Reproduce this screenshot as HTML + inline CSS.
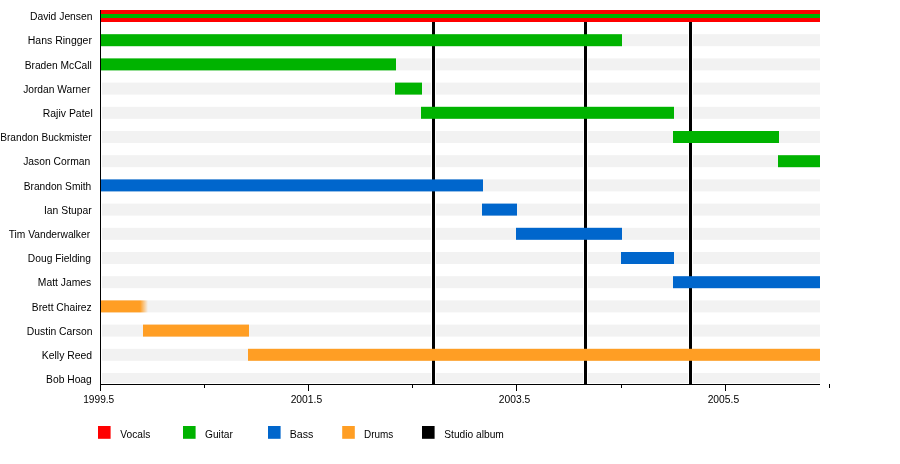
<!DOCTYPE html><html><head><meta charset="utf-8"><style>html,body{margin:0;padding:0;background:#fff;width:900px;height:464px;overflow:hidden}svg{display:block}text{font-family:"Liberation Sans",sans-serif;font-size:11px;fill:#000}</style></head><body>
<svg width="900" height="464" viewBox="0 0 900 464">
<defs><linearGradient id="fade" x1="0" x2="1" y1="0" y2="0"><stop offset="0" stop-color="#ff9e24"/><stop offset="1" stop-color="#ff9e24" stop-opacity="0"/></linearGradient></defs>
<rect x="102" y="10.0" width="718" height="12" fill="#f2f2f2"/>
<rect x="102" y="34.2" width="718" height="12" fill="#f2f2f2"/>
<rect x="102" y="58.4" width="718" height="12" fill="#f2f2f2"/>
<rect x="102" y="82.6" width="718" height="12" fill="#f2f2f2"/>
<rect x="102" y="106.8" width="718" height="12" fill="#f2f2f2"/>
<rect x="102" y="131.0" width="718" height="12" fill="#f2f2f2"/>
<rect x="102" y="155.2" width="718" height="12" fill="#f2f2f2"/>
<rect x="102" y="179.4" width="718" height="12" fill="#f2f2f2"/>
<rect x="102" y="203.6" width="718" height="12" fill="#f2f2f2"/>
<rect x="102" y="227.8" width="718" height="12" fill="#f2f2f2"/>
<rect x="102" y="252.0" width="718" height="12" fill="#f2f2f2"/>
<rect x="102" y="276.2" width="718" height="12" fill="#f2f2f2"/>
<rect x="102" y="300.4" width="718" height="12" fill="#f2f2f2"/>
<rect x="102" y="324.6" width="718" height="12" fill="#f2f2f2"/>
<rect x="102" y="348.8" width="718" height="12" fill="#f2f2f2"/>
<rect x="102" y="373.0" width="718" height="10" fill="#f2f2f2"/>
<rect x="431" y="10" width="5" height="374" fill="#fff"/>
<rect x="432" y="10" width="3" height="374" fill="#000"/>
<rect x="583" y="10" width="5" height="374" fill="#fff"/>
<rect x="584" y="10" width="3" height="374" fill="#000"/>
<rect x="688" y="10" width="5" height="374" fill="#fff"/>
<rect x="689" y="10" width="3" height="374" fill="#000"/>
<rect x="100" y="10.0" width="720" height="12" fill="#ff0000"/>
<rect x="100" y="34.2" width="522" height="12" fill="#00b300"/>
<rect x="100" y="58.4" width="296" height="12" fill="#00b300"/>
<rect x="395" y="82.6" width="27" height="12" fill="#00b300"/>
<rect x="421" y="106.8" width="253" height="12" fill="#00b300"/>
<rect x="673" y="131.0" width="106" height="12" fill="#00b300"/>
<rect x="778" y="155.2" width="42" height="12" fill="#00b300"/>
<rect x="100" y="179.4" width="383" height="12" fill="#0066cc"/>
<rect x="482" y="203.6" width="35" height="12" fill="#0066cc"/>
<rect x="516" y="227.8" width="106" height="12" fill="#0066cc"/>
<rect x="621" y="252.0" width="53" height="12" fill="#0066cc"/>
<rect x="673" y="276.2" width="147" height="12" fill="#0066cc"/>
<rect x="143" y="324.6" width="106" height="12" fill="#ff9e24"/>
<rect x="248" y="348.8" width="572" height="12" fill="#ff9e24"/>
<rect x="100" y="14" width="720" height="4" fill="#00b300"/>
<rect x="100" y="300.4" width="40" height="12" fill="#ff9e24"/>
<rect x="140" y="300.4" width="8" height="12" fill="url(#fade)"/>
<rect x="100" y="10" width="1" height="375" fill="#000"/>
<rect x="100" y="384" width="720" height="1" fill="#000"/>
<rect x="100" y="385" width="1" height="6" fill="#000"/>
<rect x="204" y="385" width="1" height="3" fill="#000"/>
<rect x="308" y="385" width="1" height="6" fill="#000"/>
<rect x="412" y="385" width="1" height="3" fill="#000"/>
<rect x="516" y="385" width="1" height="6" fill="#000"/>
<rect x="621" y="385" width="1" height="3" fill="#000"/>
<rect x="725" y="385" width="1" height="6" fill="#000"/>
<rect x="829" y="384" width="1" height="4" fill="#000"/>
<rect x="98.0" y="426" width="12.6" height="12.8" fill="#ff0000"/>
<rect x="183.0" y="426" width="12.6" height="12.8" fill="#00b300"/>
<rect x="268.0" y="426" width="12.6" height="12.8" fill="#0066cc"/>
<rect x="342.2" y="426" width="12.6" height="12.8" fill="#ff9e24"/>
<rect x="422.0" y="426" width="12.6" height="12.8" fill="#000"/>
<g style="filter:grayscale(1)">
<text transform="translate(29.96,20.10) scale(0.9400,1)">David Jensen</text>
<text transform="translate(27.74,44.30) scale(0.9555,1)">Hans Ringger</text>
<text transform="translate(24.67,68.50) scale(0.9319,1)">Braden McCall</text>
<text transform="translate(23.17,92.70) scale(0.9278,1)">Jordan Warner</text>
<text transform="translate(42.75,116.90) scale(0.9517,1)">Rajiv Patel</text>
<text transform="translate(0.18,141.10) scale(0.9245,1)">Brandon Buckmister</text>
<text transform="translate(23.16,165.30) scale(0.9404,1)">Jason Corman</text>
<text transform="translate(23.67,189.50) scale(0.9282,1)">Brandon Smith</text>
<text transform="translate(43.96,213.70) scale(0.9427,1)">Ian Stupar</text>
<text transform="translate(8.67,237.90) scale(0.9322,1)">Tim Vanderwalker</text>
<text transform="translate(27.87,262.10) scale(0.9313,1)">Doug Fielding</text>
<text transform="translate(37.86,286.30) scale(0.9405,1)">Matt James</text>
<text transform="translate(31.87,310.50) scale(0.9323,1)">Brett Chairez</text>
<text transform="translate(26.86,334.70) scale(0.9412,1)">Dustin Carson</text>
<text transform="translate(41.85,358.90) scale(0.9456,1)">Kelly Reed</text>
<text transform="translate(46.06,383.10) scale(0.9354,1)">Bob Hoag</text>
<text transform="translate(83.21,402.80) scale(0.9231,1)">1999.5</text>
<text transform="translate(290.63,402.80) scale(0.9405,1)">2001.5</text>
<text transform="translate(498.73,402.80) scale(0.9374,1)">2003.5</text>
<text transform="translate(707.63,402.80) scale(0.9374,1)">2005.5</text>
<text transform="translate(120.27,437.80) scale(0.9260,1)">Vocals</text>
<text transform="translate(205.04,437.80) scale(0.9265,1)">Guitar</text>
<text transform="translate(289.73,437.80) scale(0.9652,1)">Bass</text>
<text transform="translate(364.10,437.80) scale(0.9032,1)">Drums</text>
<text transform="translate(444.23,437.80) scale(0.9302,1)">Studio album</text>
</g>
</svg></body></html>
